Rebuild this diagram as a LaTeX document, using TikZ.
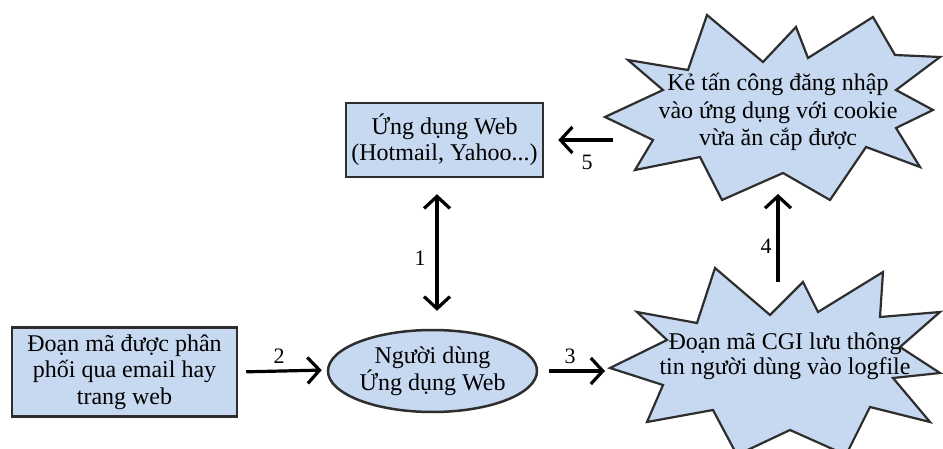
\documentclass[tikz,border=0pt]{standalone}
\usepackage{fontspec}
\setmainfont{Liberation Serif}
\usetikzlibrary{arrows.meta,shapes.geometric}
\definecolor{boxfill}{HTML}{C6D9F1}
\definecolor{edge}{HTML}{2E2E2E}
\begin{document}
\begin{tikzpicture}[x=1pt,y=-1pt,
  txt/.style={font=\fontsize{24}{26.5}\selectfont, align=center, inner sep=0pt},
  boxnode/.style={txt, draw=edge, line width=2.5pt, fill=boxfill},
  burst/.style={draw=edge, line width=2.2pt, fill=boxfill, line join=miter},
  barb/.tip={Straight Barb[length=12pt,width=26pt,line width=3.2pt]},
  flow/.style={line width=3.2pt, -barb},
  twoway/.style={line width=3.2pt, barb-barb},
  num/.style={font=\fontsize{22}{22}\selectfont, inner sep=0pt}]
\useasboundingbox (0,0) rectangle (943,449);
\clip (0,0) rectangle (943,449);
\fill[white] (0,0) rectangle (943,449);

% boxes and the user ellipse
\node[boxnode, minimum width=197pt, minimum height=74pt] (webapp) at (444.5,140)
  {Ứng dụng Web\\(Hotmail, Yahoo...)};
\node[boxnode, minimum width=225pt, minimum height=89pt] (script) at (124.5,372)
  {Đoạn mã được phân\\phối qua email hay\\trang web};
\node[boxnode, ellipse, minimum width=209pt, minimum height=82pt] (user) at (432.5,371)
  {Người dùng\\Ứng dụng Web};

% attacker burst
\draw[burst] (605,117) -- (663,90) -- (628,60) -- (688,70) -- (707,15) -- (763,62)
  -- (796,27) -- (808,58) -- (873,17) -- (895,55) -- (940,57) -- (896,90)
  -- (933,110) -- (896,128) -- (920,167) -- (866,147) -- (830,200) -- (783,173)
  -- (722,200) -- (700,157) -- (635,170) -- (653,140) -- cycle;
\node[txt, font=\fontsize{24}{27.5}\selectfont] (attack) at (778,112)
  {Kẻ tấn công đăng nhập\\vào ứng dụng với cookie\\vừa ăn cắp được};

% CGI burst
\draw[burst] (610,368) -- (667,340) -- (637,312) -- (697,323) -- (715,268) -- (770,315)
  -- (803,282) -- (818,312) -- (883,272) -- (880,317) -- (940,312) -- (900,347)
  -- (940,373) -- (893,378) -- (930,422) -- (870,407) -- (846,455) -- (790,430)
  -- (737,455) -- (713,410) -- (647,422) -- (663,385) -- cycle;
\node[txt, font=\fontsize{24}{25}\selectfont] (cgi) at (785,356)
  {Đoạn mã CGI lưu thông\\tin người dùng vào logfile};

% connector end points on the bursts
\coordinate (cgiIn) at (605,371);
\coordinate (cgiOut) at (778,282);
\coordinate (attackIn) at (778,194);
\coordinate (attackOut) at (613,140);

% connectors
\draw[twoway, shorten <=18pt, shorten >=16pt] ([xshift=4.5pt]user.north) -- ([xshift=-7.5pt]webapp.south);
\draw[flow, shorten <=8pt, shorten >=5pt] (script.east) -- ([yshift=1pt]user.west);
\draw[flow, shorten <=11pt] (user.east) -- (cgiIn);
\draw[flow] (cgiOut) -- (attackIn);
\draw[flow, shorten >=14pt] (attackOut) -- (webapp.east);

% step numbers
\node[num] (n1) at (420,258) {1};
\node[num] (n2) at (279,356) {2};
\node[num] (n3) at (570,356) {3};
\node[num] (n4) at (766,246) {4};
\node[num] (n5) at (587,162) {5};
\end{tikzpicture}
\end{document}
